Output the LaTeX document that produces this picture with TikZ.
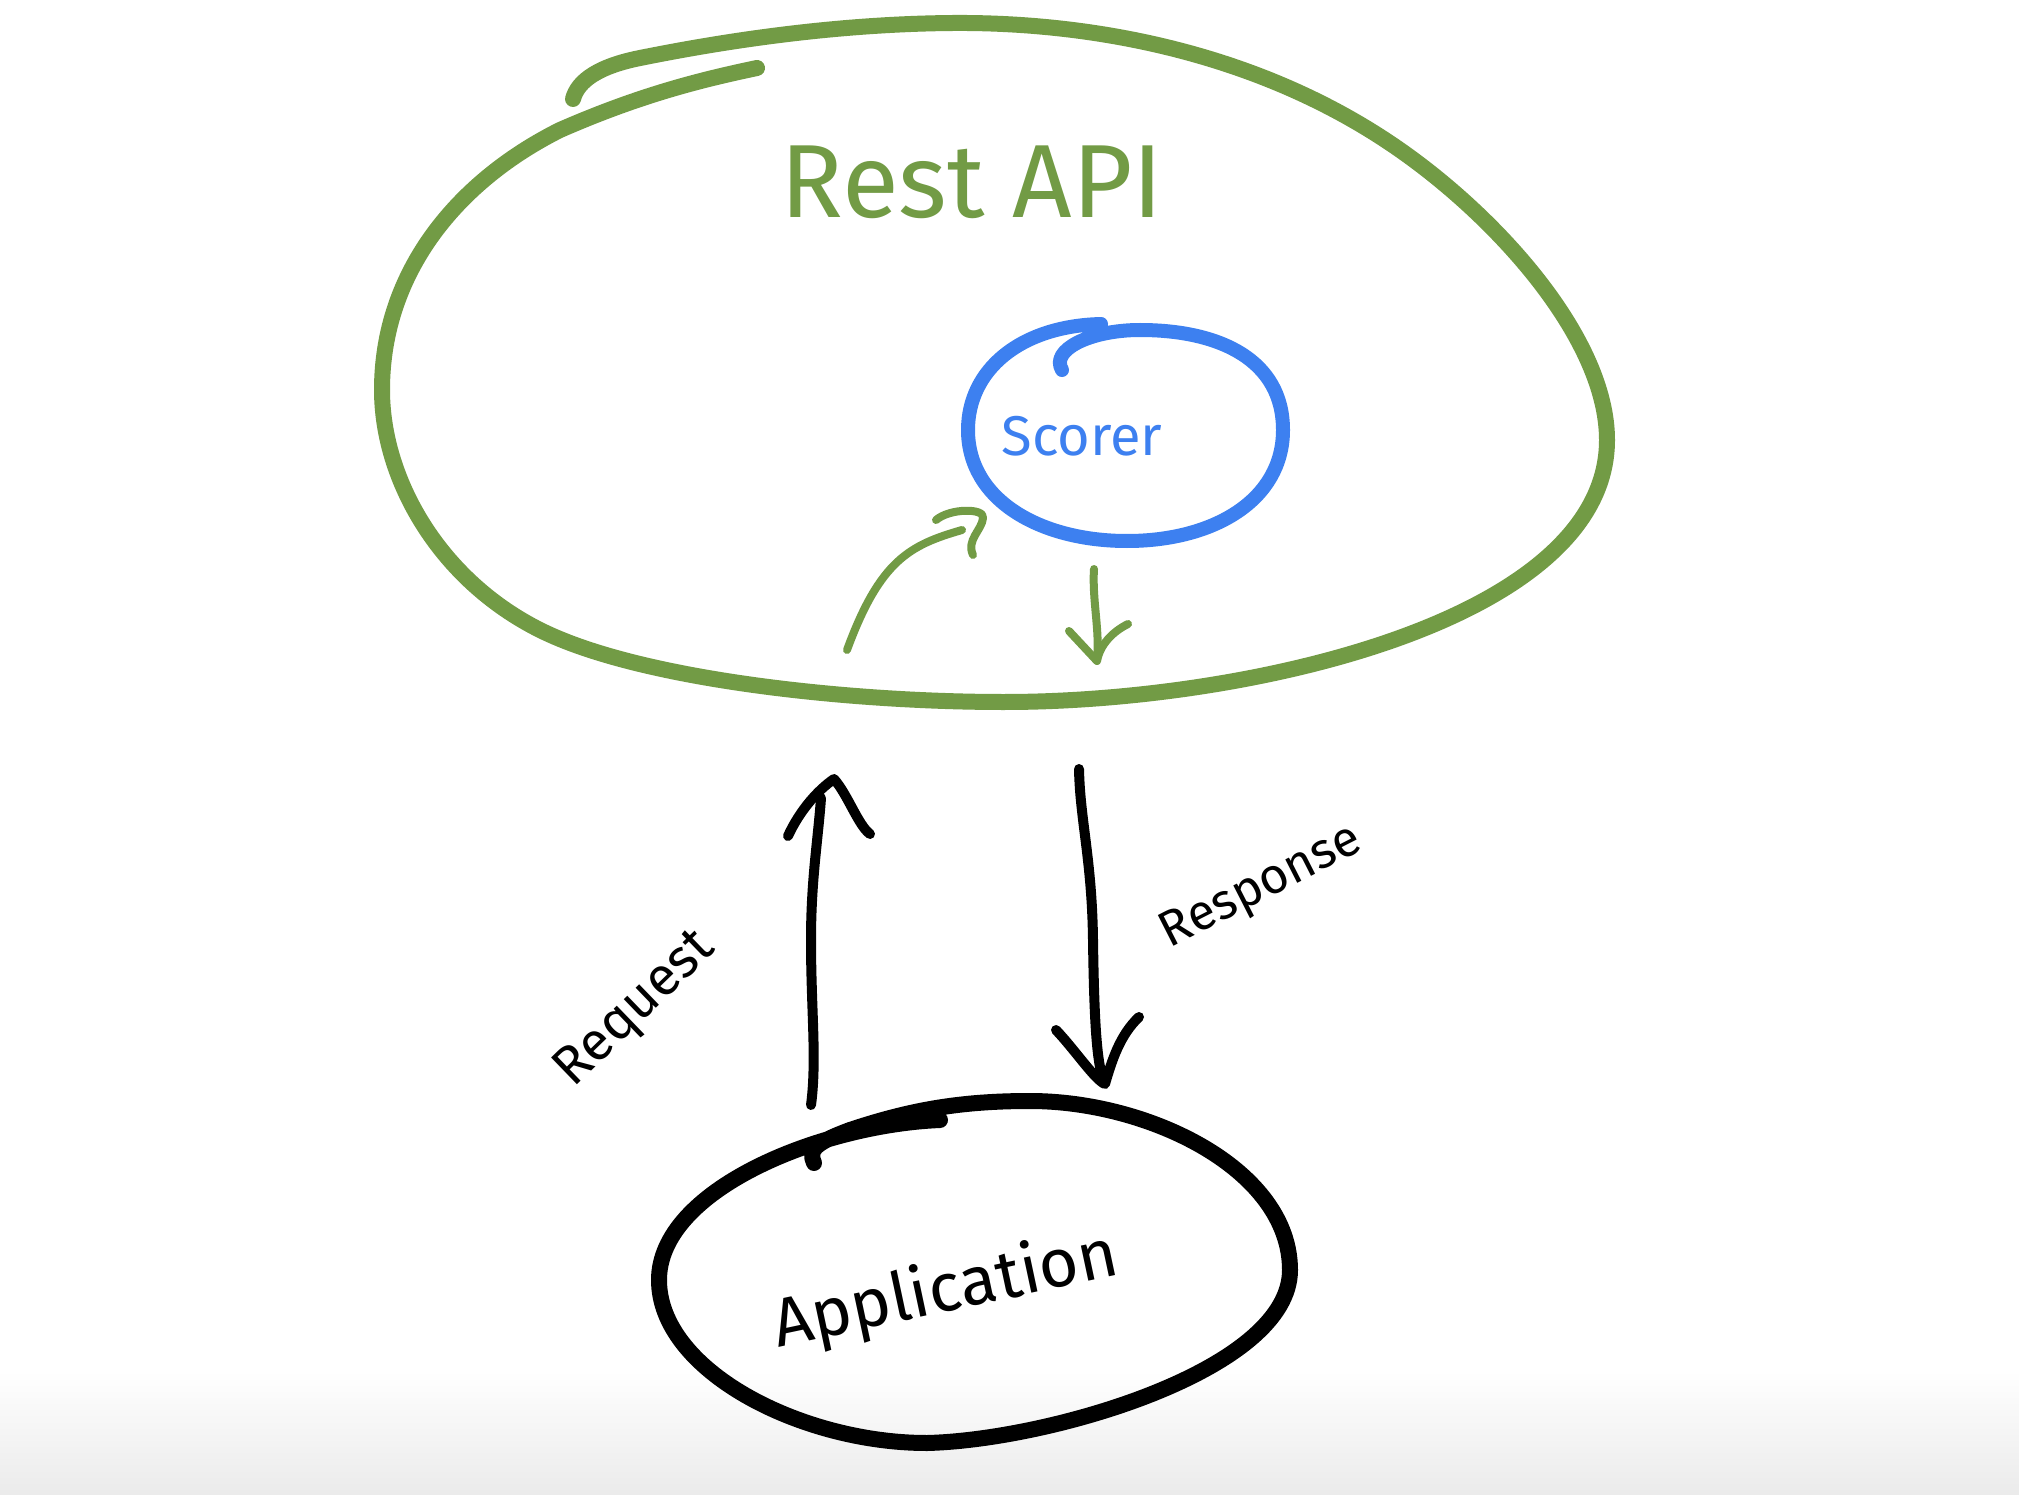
\documentclass[tikz,border=0pt]{standalone}
\usepackage{fontspec}
\setmainfont{Fira Sans}
\definecolor{apigreen}{HTML}{729B45}
\definecolor{scorerblue}{HTML}{3D80F0}
\tikzset{
  pen/.style={line cap=round, line join=round},
  greenpen/.style={pen, draw=apigreen, line width=16pt},
  bluepen/.style={pen, draw=scorerblue, line width=14pt},
  blackpen/.style={pen, draw=black, line width=16pt},
  arrowpen/.style={pen, line width=10pt},
  thinpen/.style={pen, line width=8pt},
  label/.style={inner sep=0pt}
}
\begin{document}
\begin{tikzpicture}[x=1pt, y=-1pt]
  % canvas with a faint grey fade at the foot
  \useasboundingbox (0,0) rectangle (2019,1495);
  \fill[white] (0,0) rectangle (2019,1495);
  \shade[top color=white, bottom color=black!8] (0,1370) rectangle (2019,1495);

  % Rest API blob, one stroke that overshoots its start
  \draw[greenpen] (573,99) .. controls (578,80) and (600,66) .. (640,58)
    .. controls (700,46) and (820,24) .. (953,23)
    .. controls (1086,22) and (1257,50) .. (1400,150)
    .. controls (1500,220) and (1607,340) .. (1607,440)
    .. controls (1607,620) and (1250,702) .. (1004,702)
    .. controls (850,702) and (640,680) .. (540,630)
    .. controls (440,580) and (382,480) .. (382,390)
    .. controls (382,270) and (460,180) .. (560,130)
    .. controls (640,95) and (700,80) .. (757,68);
  \node[label, text=apigreen, font=\fontsize{104}{110}\selectfont] (api) at (972,182) {Rest API};

  % Scorer blob
  \draw[bluepen] (1101,324) .. controls (1020,326) and (968,370) .. (968,430)
    .. controls (968,500) and (1040,541) .. (1127,541)
    .. controls (1214,541) and (1283,500) .. (1283,430)
    .. controls (1283,360) and (1220,330) .. (1140,330)
    .. controls (1090,330) and (1050,350) .. (1062,370);
  \node[label, text=scorerblue, font=\fontsize{56}{60}\selectfont] (scorer) at (1082,436) {Scorer};

  % Application blob
  \draw[blackpen] (814,1163) .. controls (808,1150) and (815,1143) .. (850,1130)
    .. controls (910,1110) and (960,1101) .. (1030,1101)
    .. controls (1150,1101) and (1290,1170) .. (1290,1270)
    .. controls (1290,1370) and (1050,1440) .. (927,1443)
    .. controls (800,1443) and (659,1370) .. (659,1280)
    .. controls (659,1190) and (820,1125) .. (940,1120);
  \node[label, font=\fontsize{68}{72}\selectfont, rotate=12] (app) at (946,1292) {Application};

  % connector end points
  \coordinate (inA) at (847,650);
  \coordinate (inB) at (962,530);
  \coordinate (outA) at (1094,569);
  \coordinate (outB) at (1097,660);
  \coordinate (reqA) at (811,1105);
  \coordinate (reqB) at (821,798);
  \coordinate (resA) at (1079,769);
  \coordinate (resB) at (1101,1072);

  % incoming call to the scorer
  \draw[thinpen, draw=apigreen] (inA) .. controls (880,560) and (910,545) .. (inB);
  \draw[thinpen, draw=apigreen] (936,520) .. controls (950,508) and (985,508) .. (983,518)
    .. controls (982,530) and (966,540) .. (973,555);
  % scorer result
  \draw[thinpen, draw=apigreen] (outA) .. controls (1092,600) and (1100,630) .. (outB);
  \draw[thinpen, draw=apigreen] (1069,631) -- (1097,661) .. controls (1100,645) and (1112,632) .. (1128,624);

  % request arrow
  \draw[arrowpen] (reqA) .. controls (817,1060) and (811,1010) .. (811,940)
    .. controls (811,880) and (818,840) .. (reqB);
  \draw[arrowpen] (788,836) .. controls (800,810) and (818,790) .. (834,779) .. controls (848,795) and (858,825) .. (870,834);
  \node[label, font=\fontsize{54}{58}\selectfont, rotate=44] (request) at (636,1010) {Request};

  % response arrow
  \draw[arrowpen] (resA) .. controls (1080,820) and (1092,860) .. (1093,940)
    .. controls (1094,1010) and (1096,1050) .. (resB);
  \draw[arrowpen] (1056,1030) .. controls (1075,1050) and (1095,1080) .. (1105,1084) .. controls (1112,1060) and (1120,1035) .. (1139,1017);
  \node[label, font=\fontsize{50}{54}\selectfont, rotate=27] (response) at (1262,888) {Response};
\end{tikzpicture}
\end{document}
